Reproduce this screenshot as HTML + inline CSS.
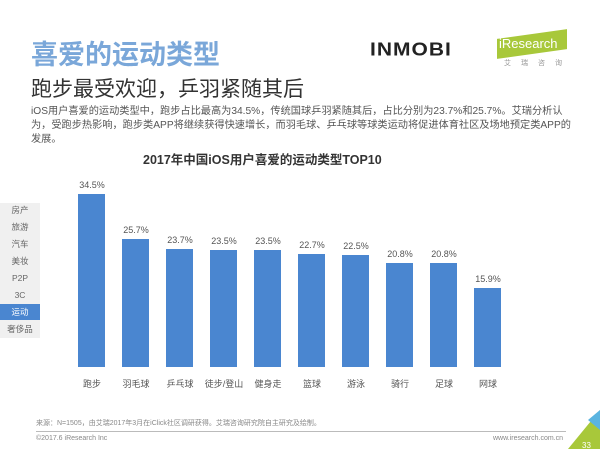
<!DOCTYPE html>
<html><head><meta charset="utf-8"><style>
body{margin:0;width:600px;height:449px;background:#fff;position:relative;overflow:hidden;font-family:"Liberation Sans","Noto Sans CJK SC",sans-serif;}
.a{position:absolute;white-space:nowrap;}
.bar{position:absolute;background:#4a86d0;width:27px;}
.v{position:absolute;font-size:9px;color:#555;width:44px;text-align:center;}
.c{position:absolute;font-size:9px;color:#555;width:50px;text-align:center;top:377px;}
.s{position:absolute;left:0;width:40px;font-size:8.5px;color:#666;text-align:center;height:16px;line-height:16px;}
</style></head><body>
<div class="a" style="left:31px;top:33px;font-size:27px;font-weight:bold;color:#7aa7d9;">喜爱的运动类型</div>
<div class="a" style="left:31px;top:73px;font-size:21px;color:#333;">跑步最受欢迎，乒羽紧随其后</div>
<div class="a" style="left:370px;top:38px;font-size:21px;color:#222;letter-spacing:1px;font-weight:bold;transform:scaleY(0.9);">INMOBI</div>
<div class="a" style="left:497px;top:34px;width:70px;height:20px;background:#a8c83a;transform:skewY(-8deg);"></div>
<div class="a" style="left:499px;top:36px;font-size:13px;color:#fff;">iResearch</div>
<div class="a" style="left:504px;top:58px;font-size:7px;color:#999;letter-spacing:10px;">艾瑞咨询</div>
<div class="a" style="left:31px;top:105px;width:548px;font-size:10.2px;color:#555;line-height:14px;white-space:normal;">iOS用户喜爱的运动类型中，跑步占比最高为34.5%，传统国球乒羽紧随其后，占比分别为23.7%和25.7%。艾瑞分析认为，受跑步热影响，跑步类APP将继续获得快速增长，而羽毛球、乒乓球等球类运动将促进体育社区及场地预定类APP的发展。</div>
<div class="a" style="left:143px;top:149px;font-size:12.5px;font-weight:bold;color:#333;">2017年中国iOS用户喜爱的运动类型TOP10</div>
<div class="a" style="left:0;top:203px;width:40px;height:135px;background:#f0f0f0;"></div>
<div class="s" style="top:202px">房产</div><div class="s" style="top:219px">旅游</div><div class="s" style="top:236px">汽车</div><div class="s" style="top:253px">美妆</div><div class="s" style="top:270px">P2P</div><div class="s" style="top:287px">3C</div>
<div class="s" style="top:304px;background:#4a86d0;color:#fff;">运动</div><div class="s" style="top:321px">奢侈品</div>
<div class="bar" style="left:78px;top:194px;height:173px"></div><div class="v" style="left:70px;top:180px">34.5%</div>
<div class="bar" style="left:122px;top:239px;height:128px"></div><div class="v" style="left:114px;top:225px">25.7%</div>
<div class="bar" style="left:166px;top:249px;height:118px"></div><div class="v" style="left:158px;top:235px">23.7%</div>
<div class="bar" style="left:210px;top:250px;height:117px"></div><div class="v" style="left:202px;top:236px">23.5%</div>
<div class="bar" style="left:254px;top:250px;height:117px"></div><div class="v" style="left:246px;top:236px">23.5%</div>
<div class="bar" style="left:298px;top:254px;height:113px"></div><div class="v" style="left:290px;top:240px">22.7%</div>
<div class="bar" style="left:342px;top:255px;height:112px"></div><div class="v" style="left:334px;top:241px">22.5%</div>
<div class="bar" style="left:386px;top:263px;height:104px"></div><div class="v" style="left:378px;top:249px">20.8%</div>
<div class="bar" style="left:430px;top:263px;height:104px"></div><div class="v" style="left:422px;top:249px">20.8%</div>
<div class="bar" style="left:474px;top:288px;height:79px"></div><div class="v" style="left:466px;top:274px">15.9%</div>
<div class="c" style="left:67px">跑步</div><div class="c" style="left:111px">羽毛球</div><div class="c" style="left:155px">乒乓球</div><div class="c" style="left:199px">徒步/登山</div><div class="c" style="left:243px">健身走</div><div class="c" style="left:287px">篮球</div><div class="c" style="left:331px">游泳</div><div class="c" style="left:375px">骑行</div><div class="c" style="left:419px">足球</div><div class="c" style="left:463px">网球</div>
<div class="a" style="left:36px;top:418px;font-size:7px;color:#888;">来源：N=1505，由艾瑞2017年3月在iClick社区调研获得。艾瑞咨询研究院自主研究及绘制。</div>
<div class="a" style="left:36px;top:431px;width:530px;height:1px;background:#bbb;"></div>
<div class="a" style="left:36px;top:435px;font-size:7px;color:#888;">©2017.6 iResearch Inc</div>
<div class="a" style="left:493px;top:435px;font-size:7px;color:#888;">www.iresearch.com.cn</div>
<svg class="a" style="left:560px;top:410px" width="40" height="39"><polygon points="40,0 40,39 8,39" fill="#a8c83a"/><polygon points="40,0 40,20 28,10" fill="#5ab4e0"/><text x="22" y="38" font-size="8" fill="#fff" font-family="Liberation Sans">33</text></svg>
</body></html>
